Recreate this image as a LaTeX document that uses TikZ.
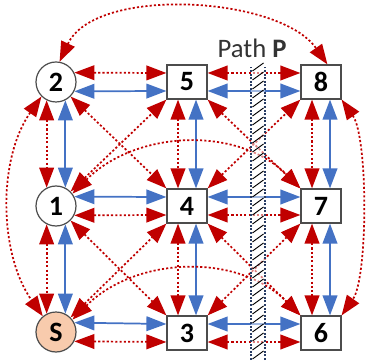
\documentclass[tikz,border=0pt]{standalone}
\usepackage{fontspec}
\setmainfont{Carlito}
\usetikzlibrary{arrows.meta}

\definecolor{linkred}{RGB}{192,0,0}
\definecolor{linkblue}{RGB}{68,114,196}
\definecolor{peach}{RGB}{248,203,173}
\definecolor{pathnavy}{RGB}{40,60,100}

\tikzset{
  bigtip/.tip={Triangle[length=15pt,width=11pt]},
  router/.style={circle,draw=black!70,fill=white,line width=0.9pt,minimum size=30pt,inner sep=0pt,
    font=\fontsize{21}{21}\selectfont\bfseries},
  switch/.style={rectangle,draw=black!70,fill=white,line width=0.9pt,minimum width=30pt,minimum height=25.5pt,
    inner sep=0pt,font=\fontsize{21}{21}\selectfont\bfseries},
  hop/.style={draw=linkred,line width=1.3pt,dash pattern=on 1.6pt off 1.6pt,bigtip-bigtip},
  link/.style={draw=linkblue,line width=1.3pt,bigtip-bigtip}
}

\begin{document}
\begin{tikzpicture}[x=0.75pt,y=0.75pt]
  \useasboundingbox (0,0) rectangle (366,360);
  \node[router] (n2) at (56,278) {2};
  \node[router] (n1) at (56,154) {1};
  \node[router,fill=peach] (nS) at (56,28) {S};
  \node[switch] (n5) at (187,278) {5};
  \node[switch] (n4) at (187,154) {4};
  \node[switch] (n3) at (187,27) {3};
  \node[switch] (n8) at (321,278) {8};
  \node[switch] (n7) at (321,154) {7};
  \node[switch] (n6) at (321,27) {6};
  % rows
  \draw[hop] (n2.27) -- ([yshift=6.75pt]n5.west);
  \draw[link] (n2.-27) -- ([yshift=-6.75pt]n5.west);
  \draw[hop] ([yshift=6.75pt]n5.east) -- ([yshift=6.75pt]n8.west);
  \draw[link] ([yshift=-6.75pt]n5.east) -- ([yshift=-6.75pt]n8.west);
  \foreach \a/\b in {n1/n4,nS/n3} {
    \draw[link] (\a.27) -- ([yshift=6.75pt]\b.west);
    \draw[hop] (\a.-27) -- ([yshift=-6.75pt]\b.west);
  }
  \foreach \a/\b in {n4/n7,n3/n6} {
    \draw[link] ([yshift=6.75pt]\a.east) -- ([yshift=6.75pt]\b.west);
    \draw[hop] ([yshift=-6.75pt]\a.east) -- ([yshift=-6.75pt]\b.west);
  }
  % columns
  \foreach \a/\b in {n2/n1,n1/nS} {
    \draw[hop] (\a.-117) -- (\b.117);
    \draw[link] (\a.-63) -- (\b.63);
  }
  \foreach \a/\b in {n5/n4,n4/n3,n8/n7,n7/n6} {
    \draw[hop] ([xshift=-6.75pt]\a.south) -- ([xshift=-6.75pt]\b.north);
    \draw[link] ([xshift=6.75pt]\a.south) -- ([xshift=6.75pt]\b.north);
  }
  % diagonals and long hops
  \draw[hop] (n2.-45) -- (n4.north west);
  \draw[hop] (n1.45) -- (n5.south west);
  \draw[hop] (n1.-45) -- (n3.north west);
  \draw[hop] (nS.45) -- (n4.south west);
  \draw[hop] (n5.south east) -- (n7.north west);
  \draw[hop] (n4.north east) -- (n8.south west);
  \draw[hop] (n4.south east) -- (n6.north west);
  \draw[hop] (n3.north east) -- (n7.south west);
  \draw[hop] (n1.37) to[out=45,in=135] (n7.north west);
  \draw[hop] (nS.37) to[out=45,in=135] (n6.north west);
  \draw[hop] (n2.80) to[out=65,in=125,looseness=0.8] (n8.70);
  \draw[hop] (n2.225) to[out=235,in=125,looseness=0.89] (nS.130);
  \draw[hop] (n8.south east) to[out=-55,in=55,looseness=0.55] (n6.north east);
  % path P
  \fill[white,fill opacity=0.5] (251,0) rectangle (265,293);
  \foreach \y in {0,9,...,288}
    \draw[black,line width=0.7pt] (252.5,\y+1) -- (263.5,\y+9);
  \draw[pathnavy,line width=1pt,dash pattern=on 1.5pt off 1.2pt] (251,0) -- (251,293);
  \draw[pathnavy,line width=1pt,dash pattern=on 1.5pt off 1.2pt] (265,0) -- (265,293);
  \node[text=black!80,font=\fontsize{20}{20}\selectfont] (pathlbl) at (252,312) {Path \textbf{P}};
\end{tikzpicture}
\end{document}
